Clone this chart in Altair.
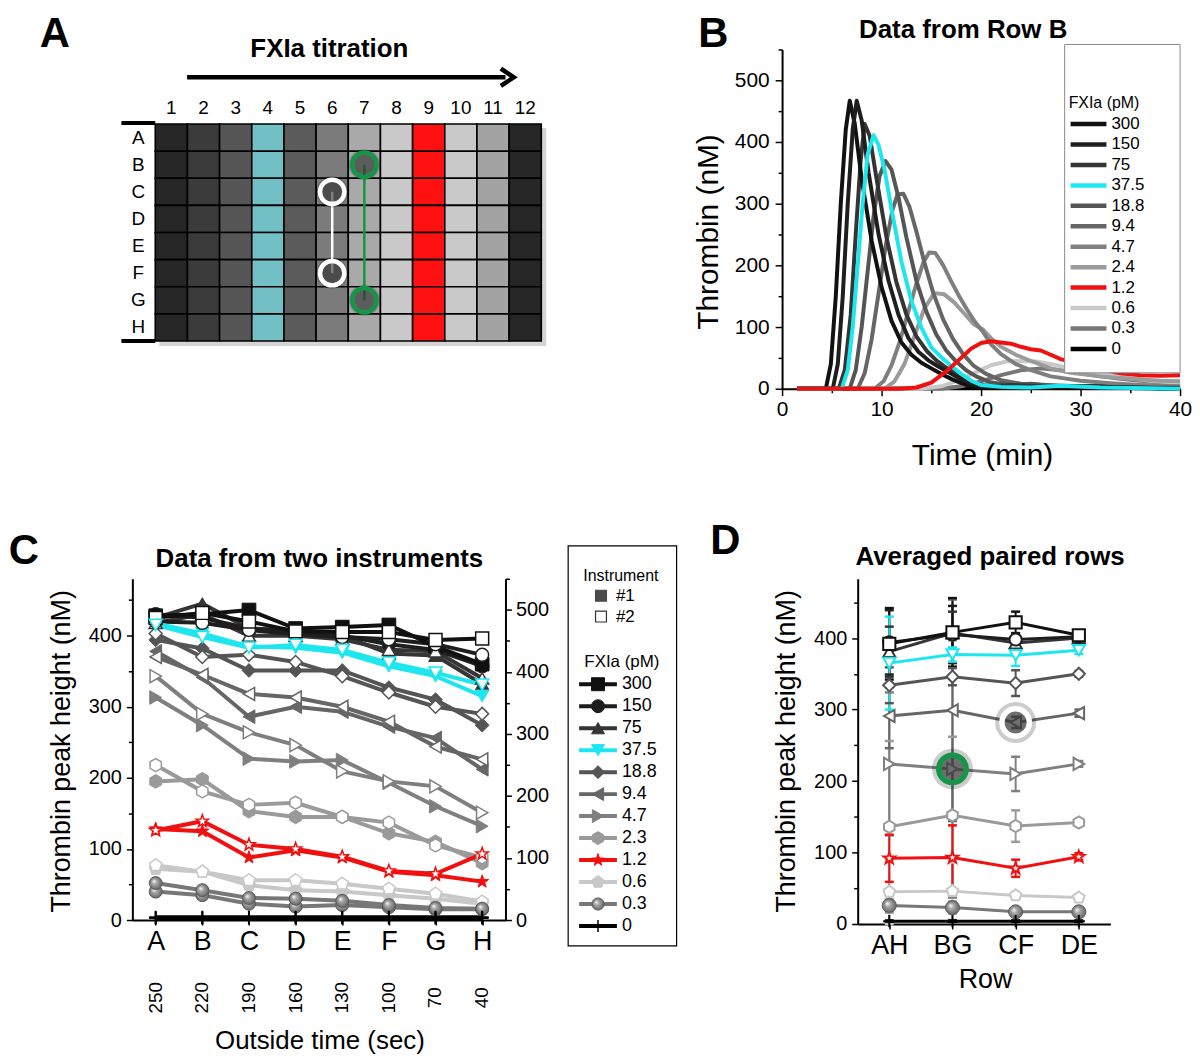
import altair as alt
import pandas as pd

W, H = 1184, 1047
FONT = "Liberation Sans"


def X(v):
    return v - 8


def Y(v):
    return v - 8


def lin(domain, rng):
    return alt.Scale(domain=domain, range=rng, nice=False, zero=False)


# ---------------- data: panel A (plate map) ----------------
plate_columns = [1, 2, 3, 4, 5, 6, 7, 8, 9, 10, 11, 12]
plate_rows = ["A", "B", "C", "D", "E", "F", "G", "H"]
plate_colors = ["#262626", "#3b3b3b", "#565656", "#72c0c6", "#5b5b5b", "#7b7b7b",
                "#a9a9a9", "#c9c9c9", "#ff1111", "#c9c9c9", "#a3a3a3", "#262626"]
ring_pairs = ["white", "green"]
ring_columns = [6, 7]
ring_rows = [["C", "F"], ["B", "G"]]
ring_colors = ["#ffffff", "#169447"]

# ---------------- data: shared series ----------------
fxia_B = ["300", "150", "75", "37.5", "18.8", "9.4", "4.7", "2.4", "1.2", "0.6", "0.3", "0"]
fxia_CD = ["300", "150", "75", "37.5", "18.8", "9.4", "4.7", "2.3", "1.2", "0.6", "0.3", "0"]
series_colors = ["#111111", "#1e1e1e", "#353535", "#1ee6ef", "#555555", "#666666",
                 "#7f7f7f", "#9a9a9a", "#f01010", "#c8c8c8", "#777777", "#000000"]
HEX = "M0,-1L0.866,-0.5L0.866,0.5L0,1L-0.866,0.5L-0.866,-0.5Z"
STAR = ("M0,-1L0.235,-0.324L0.951,-0.309L0.38,0.124L0.588,0.809L0,0.4L-0.588,0.809"
        "L-0.38,0.124L-0.951,-0.309L-0.235,-0.324Z")
PENT = "M0,-1L0.951,-0.309L0.588,0.809L-0.588,0.809L-0.951,-0.309Z"
PLUS = "M-1,0L1,0M0,-1L0,1"
series_shapes = ["square", "circle", "triangle-up", "triangle-down", "diamond", "triangle-left",
                 "triangle-right", HEX, STAR, PENT, "circle", PLUS]

# ---------------- data: panel B (thrombin curves, row B) ----------------
t_300 = [1.5, 4.4, 4.9, 5.4, 5.9, 6.4, 6.8, 7.3, 8.0, 9.0, 10, 11, 12, 13, 14, 15, 16, 17, 18, 19, 20, 25, 30, 35, 40]
v_300 = [0, 0, 40, 150, 300, 420, 467, 430, 340, 240, 165, 110, 75, 55, 42, 33, 24, 16, 9, 4, 2, 1, 3, 1, 0]
t_150 = [1.5, 5.1, 5.6, 6.1, 6.6, 7.1, 7.5, 8.0, 8.7, 9.7, 10.7, 11.7, 12.7, 13.7, 14.7, 15.7, 16.7, 17.7, 18.7, 19.7, 21, 25, 30, 35, 40]
v_150 = [0, 0, 40, 150, 300, 420, 467, 435, 350, 250, 175, 120, 82, 60, 46, 36, 27, 18, 10, 5, 3, 2, 4, 2, 0]
t_75 = [1.5, 5.7, 6.3, 6.9, 7.4, 7.9, 8.3, 8.8, 9.5, 10.5, 11.5, 12.5, 13.5, 14.5, 15.5, 16.5, 17.5, 18.5, 19.5, 21, 23, 26, 30, 35, 40]
v_75 = [0, 0, 30, 120, 250, 370, 429, 410, 340, 245, 172, 120, 85, 62, 46, 34, 24, 15, 8, 4, 6, 4, 3, 2, 0]
t_37 = [1.5, 6.0, 6.6, 7.1, 7.6, 8.1, 8.6, 9.2, 9.7, 10.3, 11, 12, 13, 14, 15, 16, 17, 18, 19, 20, 22, 25, 28, 32, 40]
v_37 = [0, 0, 30, 100, 200, 300, 380, 411, 395, 355, 291, 206, 142, 99, 67, 51, 37, 24, 13, 6, 3, 2, 5, 2, 0]
t_18 = [1.5, 6.8, 7.4, 8.0, 8.6, 9.2, 9.8, 10.4, 11.0, 11.7, 12.5, 13.5, 14.5, 15.5, 16.5, 17.5, 18.5, 19.5, 21, 23, 25, 28, 32, 40]
v_18 = [0, 0, 30, 100, 190, 280, 345, 369, 355, 310, 245, 175, 125, 88, 62, 44, 30, 20, 10, 6, 8, 4, 3, 0]
t_9 = [1.5, 7.6, 8.3, 9.0, 9.7, 10.4, 11.1, 11.6, 12.2, 12.8, 13.5, 14.3, 15.2, 16.2, 17.2, 18.2, 19.2, 20.5, 22, 24, 26, 30, 35, 40]
v_9 = [0, 0, 25, 80, 155, 230, 290, 315, 316, 295, 255, 205, 155, 112, 80, 56, 38, 24, 14, 8, 6, 4, 3, 2]
t_4 = [1.5, 9.3, 10.2, 11.0, 11.8, 12.6, 13.4, 14.2, 14.8, 15.4, 16.2, 17.0, 17.8, 18.6, 19.4, 20.2, 21.0, 22, 23.5, 25, 27, 30, 33, 36, 40]
v_4 = [0, 0, 12, 38, 75, 120, 165, 205, 221, 220, 200, 174, 150, 128, 108, 92, 72, 56, 40, 30, 20, 13, 9, 6, 4]
t_2 = [1.5, 10.3, 11.3, 12.3, 13.3, 14.3, 15.3, 16.3, 17.3, 18.3, 19.3, 20.2, 21, 22, 23.5, 25, 27, 29, 32, 35, 38, 40]
v_2 = [0, 0, 12, 40, 85, 130, 155, 153, 140, 122, 104, 96, 82, 68, 55, 45, 33, 26, 20, 16, 13, 12]
t_1 = [1.5, 12, 13.5, 15, 16.5, 18, 19, 20, 21, 22, 23, 24, 25, 26, 27, 28, 29.5, 31, 32.5, 34, 36, 38, 40]
v_1 = [0, 0, 2, 10, 28, 50, 65, 74, 77, 75, 73, 68, 64, 62, 55, 48, 42, 37, 30, 25, 22, 21, 22]
t_06 = [1.5, 14, 16, 18, 19.5, 21, 22.5, 24, 25.5, 27, 29, 31, 33, 35, 37, 40]
v_06 = [0, 0, 4, 15, 27, 38, 44, 45, 44, 40, 33, 27, 22, 17, 13, 9]
t_03 = [1.5, 16, 18, 20, 22, 24, 26, 28, 30, 32, 34, 36, 38, 40]
v_03 = [0, 0, 4, 12, 22, 30, 33, 30, 25, 20, 16, 13, 11, 9]
t_0 = [1.5, 10, 15, 20, 25, 30, 35, 40]
v_0 = [0, 0, 1, 2, 3, 4, 5, 5]

# ---------------- data: panel C (peak height per row, two instruments) ----------------
rows_C = ["A", "B", "C", "D", "E", "F", "G", "H"]
outside_time = [250, 220, 190, 160, 130, 100, 70, 40]
c_300_1 = [428, 430, 436, 410, 412, 415, 385, 360]
c_300_2 = [425, 432, 420, 406, 405, 405, 394, 396]
c_150_1 = [430, 425, 410, 405, 400, 388, 380, 357]
c_150_2 = [420, 418, 408, 402, 398, 395, 388, 373]
c_75_1 = [425, 445, 410, 408, 400, 375, 372, 332]
c_75_2 = [418, 430, 400, 400, 395, 380, 378, 340]
c_37_1 = [417, 403, 385, 383, 376, 357, 343, 315]
c_37_2 = [415, 398, 383, 387, 380, 362, 348, 331]
c_18_1 = [394, 382, 351, 351, 351, 327, 310, 274]
c_18_2 = [403, 370, 373, 363, 343, 320, 300, 290]
c_9_1 = [378, 341, 286, 300, 293, 272, 256, 212]
c_9_2 = [370, 345, 318, 313, 300, 279, 244, 226]
c_4_1 = [313, 274, 227, 223, 225, 193, 160, 132]
c_4_2 = [343, 290, 264, 246, 209, 195, 188, 151]
c_2_1 = [195, 198, 153, 145, 145, 122, 110, 80]
c_2_2 = [218, 181, 162, 165, 145, 137, 105, 88]
c_1_1 = [128, 125, 88, 98, 88, 68, 63, 54]
c_1_2 = [126, 139, 106, 100, 89, 69, 65, 93]
c_06_1 = [72, 68, 49, 42, 40, 35, 30, 23]
c_06_2 = [77, 68, 56, 56, 51, 44, 37, 26]
c_03_1 = [40, 35, 23, 19, 21, 18, 15, 15]
c_03_2 = [52, 42, 31, 30, 27, 21, 17, 16]
c_0_1 = [3, 3, 3, 3, 3, 3, 3, 3]
c_0_2 = [4, 4, 4, 4, 4, 4, 4, 4]
instruments = ["#1", "#2"]

# ---------------- data: panel D (averaged paired rows) ----------------
rows_D = ["AH", "BG", "CF", "DE"]
d_300 = [392, 408, 422, 404]
e_300 = [50, 48, 15, 5]
d_150 = [394, 405, 398, 402]
e_150 = [45, 40, 8, 5]
d_75 = [381, 407, 393, 400]
e_75 = [35, 30, 10, 5]
d_37 = [365, 377, 376, 383]
e_37 = [65, 10, 15, 5]
d_18 = [334, 346, 337, 350]
e_18 = [25, 12, 18, 4]
d_9 = [291, 299, 282, 295]
e_9 = [45, 155, 8, 5]
d_4 = [224, 217, 210, 224]
e_4 = [100, 180, 24, 4]
d_2 = [136, 152, 137, 142]
e_2 = [120, 110, 22, 4]
d_1 = [92, 93, 78, 94]
e_1 = [33, 45, 12, 5]
d_06 = [45, 46, 40, 37]
e_06 = [45, 40, 5, 4]
d_03 = [26, 23, 17, 17]
e_03 = [8, 8, 4, 4]
d_0 = [4, 4, 4, 4]
e_0 = [1, 1, 1, 1]
highlight_rows = ["CF", "BG"]
highlight_values = [282, 217]
highlight_colors = ["#ffffff", "#169447"]

# ---------------- helpers ----------------
SPHERE = {"gradient": "radial", "x1": 0.35, "y1": 0.35, "r1": 0.0, "x2": 0.5, "y2": 0.5, "r2": 0.55,
          "stops": [{"offset": 0, "color": "#ffffff"}, {"offset": 0.35, "color": "#a8a8a8"},
                    {"offset": 1, "color": "#5e5e5e"}]}


def note(text, x, y, size, weight="normal", align="center", baseline="middle", angle=0, color="black"):
    return alt.Chart(pd.DataFrame({"t": [text]})).mark_text(
        font=FONT, fontSize=size, fontWeight=weight, align=align, baseline=baseline,
        angle=angle, color=color).encode(x=alt.value(X(x)), y=alt.value(Y(y)), text="t:N")


def box(x1, x2, y1, y2, stroke="black", fill="white", width=1.2, opacity=1):
    return alt.Chart(pd.DataFrame({"k": [0]})).mark_rect(
        stroke=stroke, fill=fill, strokeWidth=width, opacity=opacity).encode(
        x=alt.value(X(x1)), x2=alt.value(X(x2)), y=alt.value(Y(y1)), y2=alt.value(Y(y2)))


def hline(x1, x2, y, width, color="black"):
    return alt.Chart(pd.DataFrame({"k": [0]})).mark_rule(strokeWidth=width, color=color).encode(
        x=alt.value(X(x1)), x2=alt.value(X(x2)), y=alt.value(Y(y)))


def ax(**kw):
    base = dict(domainColor="black", domainWidth=2, tickColor="black", tickWidth=1.5,
                labelColor="black", labelFont=FONT, titleFont=FONT, titleColor="black",
                titleFontWeight="normal", grid=False, labelFlush=False, labelOverlap=False)
    base.update(kw)
    return alt.Axis(**base)


def minor_ticks(step, big, small):
    return {"condition": {"test": f"datum.value % {step} === 0", "value": big}, "value": small}


layers = []

# ======================= PANEL A =======================
xA = lin([0, 12], [X(156), X(544)])
yA = lin([0, 8], [Y(122), Y(340)])
plate_df = pd.DataFrame([{"col": c, "ri": i, "color": plate_colors[c - 1]}
                         for c in plate_columns for i, _ in enumerate(plate_rows)])
layers.append(box(160, 549, 126, 345, stroke=None, fill="#b8b8b8", width=0, opacity=0.6))
layers.append(alt.Chart(plate_df).transform_calculate(c0="datum.col - 1", r1="datum.ri + 1")
              .mark_rect(stroke="black", strokeWidth=1.6).encode(
    x=alt.X("c0:Q", scale=xA, axis=None), x2="col:Q",
    y=alt.Y("ri:Q", scale=yA, axis=None), y2="r1:Q",
    fill=alt.Fill("color:N", scale=None)))
col_df = pd.DataFrame({"col": plate_columns, "label": [str(c) for c in plate_columns]})
layers.append(alt.Chart(col_df).transform_calculate(cx="datum.col - 0.5").mark_text(
    font=FONT, fontSize=19, baseline="middle").encode(
    x=alt.X("cx:Q", scale=xA, axis=None), y=alt.value(Y(106)), text="label:N"))
row_df = pd.DataFrame({"ri": list(range(8)), "label": plate_rows})
layers.append(alt.Chart(row_df).transform_calculate(ry="datum.ri + 0.5").mark_text(
    font=FONT, fontSize=19, baseline="middle").encode(
    x=alt.value(X(139)), y=alt.Y("ry:Q", scale=yA, axis=None), text="label:N"))
layers.append(hline(122, 156, 121, 4))
layers.append(hline(122, 156, 340, 4))

ring_recs = []
for pair, col, rws, colr in zip(ring_pairs, ring_columns, ring_rows, ring_colors):
    for r in rws:
        ring_recs.append({"pair": pair, "col": col, "ri": plate_rows.index(r), "color": colr})
ring_df = pd.DataFrame(ring_recs)
ring_base = alt.Chart(ring_df).transform_calculate(cx="datum.col - 0.5", cy="datum.ri + 0.5")
encA = dict(x=alt.X("cx:Q", scale=xA, axis=None), y=alt.Y("cy:Q", scale=yA, axis=None))
layers.append(ring_base.mark_line(strokeWidth=2.5).encode(
    detail="pair:N", stroke=alt.Stroke("color:N", scale=None), **encA))
layers.append(ring_base.mark_point(shape="circle", filled=True, size=1000, color="#000000",
                                   opacity=0.15).encode(**encA))
layers.append(ring_base.mark_point(shape="circle", filled=True, size=420, color="#333333",
                                   opacity=0.55).encode(**encA))
layers.append(ring_base.mark_point(shape="circle", filled=False, size=600, strokeWidth=4.5,
                                   opacity=1).encode(stroke=alt.Stroke("color:N", scale=None), **encA))

layers.append(hline(188, 508, 75, 4.5))
layers.append(alt.Chart(pd.DataFrame({"k": [0]})).mark_point(
    shape="M-1,-1L0.5,0L-1,1", filled=False, size=300, strokeWidth=4.5, color="black",
    opacity=1, strokeJoin="miter").encode(x=alt.value(X(512)), y=alt.value(Y(75))))
layers.append(note("FXIa titration", 331, 47, 26, weight="bold"))
layers.append(note("A", 55, 45, 42, weight="bold", baseline="alphabetic"))

# ======================= PANEL B =======================
xB = lin([0, 40], [X(786), X(1186)])
yB = lin([0, 550], [Y(388), Y(47)])
colorB = alt.Scale(domain=fxia_B, range=series_colors)
curves_B = {"300": (t_300, v_300), "150": (t_150, v_150), "75": (t_75, v_75), "37.5": (t_37, v_37),
            "18.8": (t_18, v_18), "9.4": (t_9, v_9), "4.7": (t_4, v_4), "2.4": (t_2, v_2),
            "1.2": (t_1, v_1), "0.6": (t_06, v_06), "0.3": (t_03, v_03), "0": (t_0, v_0)}
draw_order_B = ["0", "0.3", "0.6", "2.4", "4.7", "9.4", "18.8", "75", "300", "150", "37.5", "1.2"]
recB = []
for s in draw_order_B:
    tt, vv = curves_B[s]
    for a, b in zip(tt, vv):
        recB.append({"s": s, "t": a, "v": b})
dfB = pd.DataFrame(recB)
axB_x = ax(orient="bottom", offset=Y(388) - H, values=list(range(0, 41, 5)),
           labelExpr="datum.value % 10 === 0 ? datum.label : ''",
           tickSize=minor_ticks(10, 7, 4), labelFontSize=21, labelPadding=3, labelAngle=0,
           title="Time (min)", titleFontSize=30, titleX=X(987), titleY=67,
           titleAlign="center", titleBaseline="middle", titleAngle=0)
axB_y = ax(orient="left", offset=-X(786), values=list(range(0, 551, 50)),
           labelExpr="datum.value % 100 === 0 ? datum.label : ''",
           tickSize=minor_ticks(100, 7, 4), labelFontSize=21, labelPadding=6,
           title="Thrombin (nM)", titleFontSize=30, titleX=712 - 786, titleY=Y(230),
           titleAngle=270, titleAlign="center", titleBaseline="middle")
layers.append(alt.Chart(dfB).mark_line(strokeWidth=4, strokeJoin="round").encode(
    x=alt.X("t:Q", scale=xB, axis=axB_x), y=alt.Y("v:Q", scale=yB, axis=axB_y),
    color=alt.Color("s:N", scale=colorB, legend=None)))
layers.append(note("Data from Row B", 968, 27, 26, weight="bold"))
layers.append(note("B", 717, 45, 42, weight="bold", baseline="alphabetic"))
# legend B
layers.append(box(1070, 1186, 42, 372, stroke="#8a8a8a", fill="white", width=1))
legB_df = pd.DataFrame({"s": fxia_B, "idx": list(range(12))})
yLegB = lin([0, 11], [Y(122), Y(348)])
layers.append(alt.Chart(legB_df).mark_rule(strokeWidth=4.5).encode(
    x=alt.value(X(1076)), x2=alt.value(X(1112)), y=alt.Y("idx:Q", scale=yLegB, axis=None),
    color=alt.Color("s:N", scale=colorB, legend=None)))
layers.append(alt.Chart(legB_df).mark_text(font=FONT, fontSize=17, align="left", baseline="middle").encode(
    x=alt.value(X(1117)), y=alt.Y("idx:Q", scale=yLegB, axis=None), text="s:N"))
layers.append(note("FXIa (pM)", 1074, 101, 16, align="left"))

# ======================= PANEL C =======================
xC = alt.Scale(type="point", domain=rows_C, range=[X(133), X(508)], padding=0.5)
yC = lin([0, 480], [Y(922), Y(579)])
yC2 = lin([0, 550], [Y(922), Y(579)])
colorCD = alt.Scale(domain=fxia_CD, range=series_colors)
shapeCD = alt.Scale(domain=fxia_CD, range=series_shapes)
vals_1 = [c_300_1, c_150_1, c_75_1, c_37_1, c_18_1, c_9_1, c_4_1, c_2_1, c_1_1, c_06_1, c_03_1, c_0_1]
vals_2 = [c_300_2, c_150_2, c_75_2, c_37_2, c_18_2, c_9_2, c_4_2, c_2_2, c_1_2, c_06_2, c_03_2, c_0_2]
draw_order_C = ["0", "0.3", "0.6", "2.3", "4.7", "9.4", "18.8", "75", "150", "300", "1.2", "37.5"]
recC = []
for s in draw_order_C:
    i = fxia_CD.index(s)
    for inst, vals in zip(instruments, [vals_1[i], vals_2[i]]):
        for r, v in zip(rows_C, vals):
            recC.append({"s": s, "inst": inst, "row": r, "v": v})
dfC = pd.DataFrame(recC)

axC_x = ax(orient="bottom", offset=Y(922) - H, tickSize=5, labelFontSize=27, labelPadding=4,
           labelAngle=0, labelAlign="center", labelBaseline="top",
           title="Outside time (sec)", titleFontSize=26, titleX=X(321), titleY=121,
           titleAlign="center", titleBaseline="middle", titleAngle=0)
axC_y = ax(orient="left", offset=-X(133), values=list(range(0, 451, 50)),
           labelExpr="datum.value % 100 === 0 ? datum.label : ''",
           tickSize=minor_ticks(100, 6, 4), labelFontSize=20, labelPadding=5,
           title="Thrombin peak height (nM)", titleFontSize=27, titleX=62 - 133, titleY=Y(752),
           titleAngle=270, titleAlign="center", titleBaseline="middle")
axC_r = ax(orient="right", offset=X(508) - W, values=list(range(0, 551, 50)),
           labelExpr="datum.value % 100 === 0 ? datum.label : ''",
           tickSize=minor_ticks(100, 6, 4), labelFontSize=20, labelPadding=4, title=None)

encC = dict(x=alt.X("row:N", scale=xC, axis=None), y=alt.Y("v:Q", scale=yC, axis=None))
layers.append(alt.Chart(dfC).mark_line(strokeWidth=4).encode(
    x=alt.X("row:N", scale=xC, axis=axC_x), y=alt.Y("v:Q", scale=yC, axis=axC_y),
    color=alt.Color("s:N", scale=colorCD, legend=None), detail="inst:N"))
layers.append(alt.Chart(pd.DataFrame({"v": [0, 550]})).mark_point(opacity=0).encode(
    y=alt.Y("v:Q", scale=yC2, axis=axC_r)))
layers.append(alt.Chart(dfC).transform_filter((alt.datum.inst == "#1") & (alt.datum.s != "0.3") & (alt.datum.s != "0"))
              .mark_point(filled=True, size=190, opacity=1, strokeWidth=1).encode(
    shape=alt.Shape("s:N", scale=shapeCD, legend=None),
    fill=alt.Fill("s:N", scale=colorCD, legend=None),
    stroke=alt.Stroke("s:N", scale=colorCD, legend=None), **encC))
layers.append(alt.Chart(dfC).transform_filter((alt.datum.inst == "#2") & (alt.datum.s != "0.3") & (alt.datum.s != "0"))
              .mark_point(size=170, opacity=1, strokeWidth=1.5).encode(
    shape=alt.Shape("s:N", scale=shapeCD, legend=None),
    fill=alt.value("white"),
    stroke=alt.Stroke("s:N", scale=colorCD, legend=None), **encC))
layers.append(alt.Chart(dfC).transform_filter(alt.datum.s == "0.3").mark_point(
    shape="circle", filled=True, fill=SPHERE, stroke="#5a5a5a", strokeWidth=1, size=170,
    opacity=1).encode(**encC))
layers.append(alt.Chart(dfC).transform_filter(alt.datum.s == "0").mark_point(
    shape=PLUS, filled=False, stroke="black", strokeWidth=2, size=170, opacity=1).encode(**encC))
time_df = pd.DataFrame({"row": rows_C, "label": [str(t) for t in outside_time]})
layers.append(alt.Chart(time_df).mark_text(font=FONT, fontSize=19, angle=270, align="center",
                                           baseline="middle").encode(
    x=alt.X("row:N", scale=xC, axis=None), y=alt.value(Y(1000)), text="label:N"))
layers.append(note("Data from two instruments", 321, 559, 26, weight="bold"))
layers.append(note("C", 24, 564, 42, weight="bold", baseline="alphabetic"))

# legend C
layers.append(box(571, 680, 546, 948, stroke="black", fill="white", width=1.2))
layers.append(note("Instrument", 624, 576, 16))
inst_df = pd.DataFrame({"inst": instruments, "label": instruments, "k": [0, 1]})
yInst = lin([0, 1], [Y(596), Y(617)])
layers.append(alt.Chart(inst_df).mark_point(shape="square", size=120, opacity=1, strokeWidth=1.2).encode(
    x=alt.value(X(604)), y=alt.Y("k:Q", scale=yInst, axis=None),
    fill=alt.Fill("inst:N", scale=alt.Scale(domain=instruments, range=["#4a4a4a", "white"]), legend=None),
    stroke=alt.Stroke("inst:N", scale=alt.Scale(domain=instruments, range=["#4a4a4a", "#333333"]), legend=None)))
layers.append(alt.Chart(inst_df).mark_text(font=FONT, fontSize=17, align="left", baseline="middle").encode(
    x=alt.value(X(619)), y=alt.Y("k:Q", scale=yInst, axis=None), text="label:N"))
layers.append(note("FXIa (pM)", 625, 663, 17))
legC_df = pd.DataFrame({"s": fxia_CD, "idx": list(range(12))})
yLegC = lin([0, 11], [Y(685), Y(928)])
legC_y = alt.Y("idx:Q", scale=yLegC, axis=None)
layers.append(alt.Chart(legC_df).mark_rule(strokeWidth=4).encode(
    x=alt.value(X(582)), x2=alt.value(X(620)), y=legC_y,
    color=alt.Color("s:N", scale=colorCD, legend=None)))
layers.append(alt.Chart(legC_df).transform_filter((alt.datum.s != "0.3") & (alt.datum.s != "0"))
              .mark_point(filled=True, size=170, opacity=1, strokeWidth=1).encode(
    x=alt.value(X(601)), y=legC_y,
    shape=alt.Shape("s:N", scale=shapeCD, legend=None),
    fill=alt.Fill("s:N", scale=colorCD, legend=None),
    stroke=alt.Stroke("s:N", scale=colorCD, legend=None)))
layers.append(alt.Chart(legC_df).transform_filter(alt.datum.s == "0.3").mark_point(
    shape="circle", filled=True, fill=SPHERE, stroke="#5a5a5a", strokeWidth=1, size=150,
    opacity=1).encode(x=alt.value(X(601)), y=legC_y))
layers.append(alt.Chart(legC_df).transform_filter(alt.datum.s == "0").mark_point(
    shape=PLUS, filled=False, stroke="black", strokeWidth=1.5, size=150, opacity=1).encode(
    x=alt.value(X(601)), y=legC_y))
layers.append(alt.Chart(legC_df).mark_text(font=FONT, fontSize=18, align="left", baseline="middle").encode(
    x=alt.value(X(625)), y=legC_y, text="s:N"))

# ======================= PANEL D =======================
xD = alt.Scale(type="point", domain=rows_D, range=[X(862), X(1116)], padding=0.5)
yD = lin([0, 483], [Y(926), Y(579)])
means_D = [d_300, d_150, d_75, d_37, d_18, d_9, d_4, d_2, d_1, d_06, d_03, d_0]
errs_D = [e_300, e_150, e_75, e_37, e_18, e_9, e_4, e_2, e_1, e_06, e_03, e_0]
recD = []
for s in draw_order_C:
    i = fxia_CD.index(s)
    for r, m, e in zip(rows_D, means_D[i], errs_D[i]):
        recD.append({"s": s, "row": r, "v": m, "lo": m - e, "hi": m + e})
dfD = pd.DataFrame(recD)
encD = dict(x=alt.X("row:N", scale=xD, axis=None), y=alt.Y("v:Q", scale=yD, axis=None))
axD_x = ax(orient="bottom", offset=Y(926) - H, tickSize=5, labelFontSize=27, labelPadding=4,
           labelAngle=0, labelAlign="center", labelBaseline="top",
           title="Row", titleFontSize=27, titleX=X(990), titleY=56,
           titleAlign="center", titleBaseline="middle", titleAngle=0)
axD_y = ax(orient="left", offset=-X(862), values=list(range(0, 451, 50)),
           labelExpr="datum.value % 100 === 0 ? datum.label : ''",
           tickSize=minor_ticks(100, 6, 4), labelFontSize=20, labelPadding=5,
           title="Thrombin peak height (nM)", titleFontSize=27, titleX=790 - 862, titleY=Y(752),
           titleAngle=270, titleAlign="center", titleBaseline="middle")
layers.append(alt.Chart(dfD).mark_rule(strokeWidth=2).encode(
    x=alt.X("row:N", scale=xD, axis=None), y=alt.Y("lo:Q", scale=yD, axis=None), y2="hi:Q",
    color=alt.Color("s:N", scale=colorCD, legend=None)))
for fld in ["lo", "hi"]:
    layers.append(alt.Chart(dfD).mark_tick(orient="horizontal", size=9, thickness=2.5, opacity=1).encode(
        x=alt.X("row:N", scale=xD, axis=None), y=alt.Y(f"{fld}:Q", scale=yD, axis=None),
        color=alt.Color("s:N", scale=colorCD, legend=None)))
layers.append(alt.Chart(dfD).mark_line(strokeWidth=3).encode(
    x=alt.X("row:N", scale=xD, axis=axD_x), y=alt.Y("v:Q", scale=yD, axis=axD_y),
    color=alt.Color("s:N", scale=colorCD, legend=None)))
layers.append(alt.Chart(dfD).transform_filter((alt.datum.s != "0.3") & (alt.datum.s != "0"))
              .mark_point(size=150, opacity=1, strokeWidth=2).encode(
    shape=alt.Shape("s:N", scale=shapeCD, legend=None), fill=alt.value("white"),
    stroke=alt.Stroke("s:N", scale=colorCD, legend=None), **encD))
layers.append(alt.Chart(dfD).transform_filter(alt.datum.s == "0.3").mark_point(
    shape="circle", filled=True, fill=SPHERE, stroke="#5a5a5a", strokeWidth=1, size=200,
    opacity=1).encode(**encD))
layers.append(alt.Chart(dfD).transform_filter(alt.datum.s == "0").mark_point(
    shape=PLUS, filled=False, stroke="black", strokeWidth=2, size=150, opacity=1).encode(**encD))
hl_df = pd.DataFrame({"row": highlight_rows, "v": highlight_values, "color": highlight_colors})
hl = alt.Chart(hl_df)
layers.append(hl.mark_point(shape="circle", filled=True, size=1700, color="#000000", opacity=0.2).encode(**encD))
layers.append(hl.mark_point(shape="circle", filled=True, size=520, color="#3c3c3c", opacity=0.65).encode(**encD))
layers.append(hl.mark_point(shape="circle", filled=False, size=760, strokeWidth=5.5, opacity=1).encode(
    stroke=alt.Stroke("color:N", scale=None), **encD))
layers.append(note("Averaged paired rows", 995, 557, 26, weight="bold"))
layers.append(note("D", 729, 554, 42, weight="bold", baseline="alphabetic"))

chart = alt.layer(*layers).resolve_scale(
    x="independent", y="independent", color="independent", fill="independent",
    stroke="independent", shape="independent"
).properties(width=W, height=H, padding=0).configure(
    font=FONT, view=alt.ViewConfig(stroke=None))

chart.save("out.html", embed_options={"renderer": "svg", "actions": False})
